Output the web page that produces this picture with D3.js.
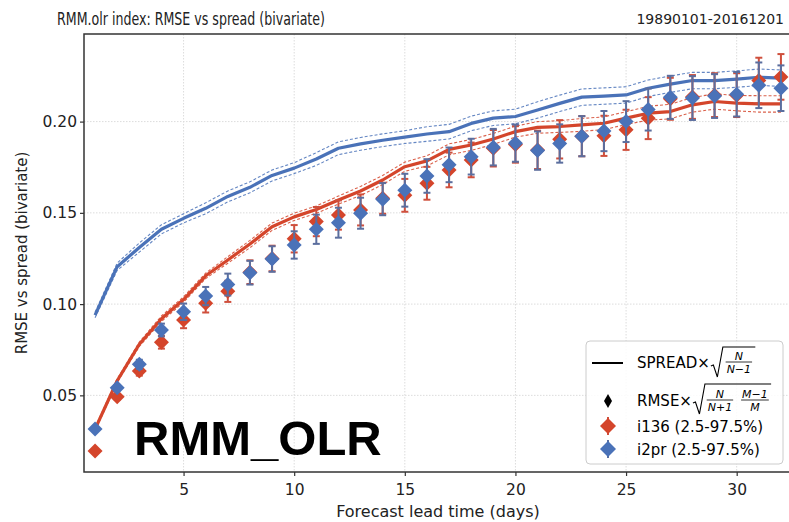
<!DOCTYPE html>
<html>
<head>
<meta charset="utf-8">
<script src="https://cdn.jsdelivr.net/npm/d3@7"></script>
<style>
    body { margin: 0; background: #fff; }
    svg { display: block; font-family: "DejaVu Sans", sans-serif; }
</style>
</head>
<body>
<svg id="chart" width="789" height="522"></svg>
<script>

// forecast lead time (days)
let days = [1, 2, 3, 4, 5, 6, 7, 8, 9, 10, 11, 12, 13, 14, 15, 16,
    17, 18, 19, 20, 21, 22, 23, 24, 25, 26, 27, 28, 29, 30, 31, 32];

// spread lines (solid) with their dashed 2.5-97.5% bands
let spreadI136 = [0.0315, 0.058, 0.078, 0.092, 0.1025, 0.1155, 0.1242, 0.1329, 0.1424, 0.1478, 0.1518, 0.157,
    0.162, 0.168, 0.1753, 0.1785, 0.1848, 0.1872, 0.1905, 0.1945, 0.1968, 0.1973, 0.1982, 0.1991,
    0.2019, 0.2046, 0.2055, 0.2092, 0.211, 0.2101, 0.2097, 0.2097];
let spreadI136Lo = [0.0305, 0.057, 0.0768, 0.0905, 0.101, 0.114, 0.1224, 0.1309, 0.1404, 0.1458, 0.1498, 0.1548,
    0.1595, 0.1655, 0.1728, 0.1757, 0.1818, 0.1842, 0.1875, 0.1915, 0.1936, 0.1941, 0.1947, 0.1956,
    0.1984, 0.2008, 0.2015, 0.2052, 0.2068, 0.2059, 0.2052, 0.2052];
let spreadI136Hi = [0.0325, 0.059, 0.0792, 0.0935, 0.104, 0.117, 0.126, 0.1349, 0.1444, 0.1498, 0.1538, 0.1592,
    0.1645, 0.1705, 0.1778, 0.1813, 0.1878, 0.1902, 0.1935, 0.1975, 0.2, 0.2005, 0.2017, 0.2026,
    0.2054, 0.2084, 0.2095, 0.2132, 0.2152, 0.2143, 0.2142, 0.2142];

let spreadI2pr = [0.094, 0.1205, 0.131, 0.141, 0.147, 0.1525, 0.159, 0.164, 0.1705, 0.1745, 0.1795, 0.1854,
    0.1878, 0.1898, 0.1915, 0.1932, 0.1945, 0.199, 0.2019, 0.2028, 0.2064, 0.21, 0.2134, 0.214,
    0.2146, 0.2183, 0.2205, 0.2225, 0.2225, 0.2233, 0.2243, 0.2238];
let spreadI2prLo = [0.0925, 0.1185, 0.1285, 0.1385, 0.1445, 0.1495, 0.156, 0.161, 0.1675, 0.1715, 0.176, 0.1819,
    0.1843, 0.1863, 0.188, 0.1892, 0.1905, 0.195, 0.1979, 0.1988, 0.2019, 0.2055, 0.2089, 0.2095,
    0.2101, 0.2138, 0.216, 0.218, 0.218, 0.2188, 0.2198, 0.2193];
let spreadI2prHi = [0.0955, 0.1225, 0.1335, 0.1435, 0.1495, 0.1555, 0.162, 0.167, 0.1735, 0.1775, 0.183, 0.1889,
    0.1913, 0.1933, 0.195, 0.1972, 0.1985, 0.203, 0.2059, 0.2068, 0.2109, 0.2145, 0.2179, 0.2185,
    0.2191, 0.2228, 0.225, 0.227, 0.227, 0.2278, 0.2288, 0.2283];

// corrected RMSE (diamonds) and the half-width of their error bars
let rmseI136 = [0.0195, 0.0492, 0.0633, 0.0791, 0.0913, 0.1004, 0.107, 0.1175, 0.125, 0.1358, 0.1452, 0.1488,
    0.1516, 0.158, 0.1596, 0.1662, 0.1735, 0.179, 0.1854, 0.1875, 0.1845, 0.1903, 0.192, 0.1922,
    0.1955, 0.2019, 0.2125, 0.2135, 0.2145, 0.2145, 0.2225, 0.2245];
let errI136 = [0.001, 0.0015, 0.0025, 0.0035, 0.0045, 0.005, 0.0058, 0.0065, 0.007, 0.0075, 0.008, 0.008,
    0.0085, 0.0085, 0.009, 0.009, 0.0095, 0.0095, 0.01, 0.01, 0.0105, 0.0105, 0.011, 0.011,
    0.011, 0.0115, 0.0115, 0.012, 0.012, 0.012, 0.0125, 0.0125];
let rmseI2pr = [0.0316, 0.0542, 0.067, 0.0858, 0.0958, 0.1044, 0.1107, 0.1172, 0.1247, 0.1324, 0.141, 0.1446,
    0.1498, 0.1575, 0.1624, 0.1702, 0.1763, 0.1808, 0.186, 0.1882, 0.1841, 0.188, 0.192, 0.1948,
    0.2, 0.2066, 0.2133, 0.2129, 0.214, 0.215, 0.2199, 0.2183];
let errI2pr = [0.001, 0.0015, 0.0025, 0.0035, 0.0045, 0.005, 0.006, 0.0065, 0.007, 0.0075, 0.008, 0.0082,
    0.0085, 0.0088, 0.009, 0.0092, 0.0095, 0.0098, 0.01, 0.0102, 0.0105, 0.0105, 0.011, 0.011,
    0.0112, 0.0115, 0.0118, 0.012, 0.012, 0.0122, 0.0125, 0.0125];

let xTicks = [5, 10, 15, 20, 25, 30];
let yTicks = [0.05, 0.10, 0.15, 0.20];

let red = "#d4452b";
let redBar = "#cf4f3c";
let blue = "#4a72b8";
let blueBar = "#5b6e9e";

let svg = d3.select("#chart");
let plotLeft = 84, plotRight = 792, plotTop = 34, plotBottom = 472;

let xScale = d3.scaleLinear().domain([0.5, 32.5]).range([plotLeft, plotRight]);
let yScale = d3.scaleLinear().domain([0.008, 0.248]).range([plotBottom, plotTop]);

// titles (the source figure's title font is narrow and tall)
svg.append("text")
    .attr("x", 57).attr("y", 25)
    .attr("font-size", 17).attr("fill", "#222")
    .attr("textLength", 268).attr("lengthAdjust", "spacingAndGlyphs")
    .text("RMM.olr index: RMSE vs spread (bivariate)");
svg.append("text")
    .attr("x", 784).attr("y", 24)
    .attr("text-anchor", "end")
    .attr("font-size", 14).attr("fill", "#222")
    .text("19890101-20161201");

// grid
let grid = svg.append("g");
grid.selectAll("line.gx").data(xTicks).enter().append("line")
    .attr("x1", d => xScale(d)).attr("x2", d => xScale(d))
    .attr("y1", plotTop).attr("y2", plotBottom);
grid.selectAll("line.gy").data(yTicks).enter().append("line")
    .attr("x1", plotLeft).attr("x2", plotRight)
    .attr("y1", d => yScale(d)).attr("y2", d => yScale(d));
grid.selectAll("line")
    .attr("stroke", "#dcdcdc").attr("stroke-width", 1)
    .attr("stroke-dasharray", "1.5,1.5");

// axes
let xAxis = d3.axisBottom(xScale).tickValues(xTicks).tickSize(4).tickSizeOuter(0);
let yAxis = d3.axisLeft(yScale).tickValues(yTicks).tickFormat(d3.format(".2f")).tickSize(4).tickSizeOuter(0);

let gx = svg.append("g").attr("transform", "translate(0," + plotBottom + ")").call(xAxis);
let gy = svg.append("g").attr("transform", "translate(" + plotLeft + ",0)").call(yAxis);
[gx, gy].forEach(function (g) {
    g.select(".domain").remove();
    g.selectAll(".tick line").attr("stroke", "#333").attr("stroke-width", 1.2);
    g.selectAll(".tick text")
        .attr("font-family", "DejaVu Sans").attr("font-size", 15.5).attr("fill", "#222");
});
gx.selectAll(".tick text").attr("dy", "1.05em");
gy.selectAll(".tick text").attr("x", -7);

svg.append("text")
    .attr("x", (plotLeft + plotRight) / 2).attr("y", 517)
    .attr("text-anchor", "middle").attr("font-size", 16).attr("fill", "#222")
    .text("Forecast lead time (days)");
svg.append("text")
    .attr("transform", "translate(27," + ((plotTop + plotBottom) / 2) + ") rotate(-90)")
    .attr("text-anchor", "middle").attr("font-size", 15).attr("fill", "#222")
    .text("RMSE vs spread (bivariate)");

let plot = svg.append("g");

// spread lines + bands
let series = [
    {mid: spreadI136, lo: spreadI136Lo, hi: spreadI136Hi, color: red},
    {mid: spreadI2pr, lo: spreadI2prLo, hi: spreadI2prHi, color: blue}
];
series.forEach(function (s) {
    let line = d3.line().x((d, i) => xScale(days[i])).y(d => yScale(d));
    [s.lo, s.hi].forEach(function (band) {
        plot.append("path").datum(band)
            .attr("d", line).attr("fill", "none")
            .attr("stroke", s.color).attr("stroke-width", 1.1)
            .attr("stroke-dasharray", "3,2").attr("opacity", 0.85);
    });
    plot.append("path").datum(s.mid)
        .attr("d", line).attr("fill", "none")
        .attr("stroke", s.color).attr("stroke-width", 3.2)
        .attr("stroke-linejoin", "round");
});

// diamonds with error bars
function diamond(hw, hh) {
    return "M0," + (-hh) + "L" + hw + ",0L0," + hh + "L" + (-hw) + ",0Z";
}

let markers = [
    {vals: rmseI136, err: errI136, color: red, bar: redBar},
    {vals: rmseI2pr, err: errI2pr, color: blue, bar: blueBar}
];
markers.forEach(function (m) {
    let g = plot.append("g");
    let pts = days.map((d, i) => ({day: d, v: m.vals[i], e: m.err[i]}));
    g.selectAll("line.eb").data(pts).enter().append("line")
        .attr("x1", d => xScale(d.day)).attr("x2", d => xScale(d.day))
        .attr("y1", d => yScale(d.v - d.e)).attr("y2", d => yScale(d.v + d.e))
        .attr("stroke", m.bar).attr("stroke-width", 2);
    [-1, 1].forEach(function (sign) {
        g.selectAll("line.cap" + sign).data(pts).enter().append("line")
            .attr("x1", d => xScale(d.day) - 3.5).attr("x2", d => xScale(d.day) + 3.5)
            .attr("y1", d => yScale(d.v + sign * d.e)).attr("y2", d => yScale(d.v + sign * d.e))
            .attr("stroke", m.bar).attr("stroke-width", 2);
    });
    g.selectAll("path").data(pts).enter().append("path")
        .attr("transform", d => "translate(" + xScale(d.day) + "," + yScale(d.v) + ")")
        .attr("d", diamond(7.5, 7.5))
        .attr("fill", m.color);
});

// frame
svg.append("rect")
    .attr("x", plotLeft).attr("y", plotTop)
    .attr("width", plotRight - plotLeft).attr("height", plotBottom - plotTop)
    .attr("fill", "none").attr("stroke", "#333").attr("stroke-width", 1.5);

// big label
svg.append("text")
    .attr("x", 134).attr("y", 455)
    .attr("font-family", "Liberation Sans, Arial, sans-serif")
    .attr("font-weight", "bold").attr("font-size", 49)
    .attr("fill", "#000")
    .text("RMM_OLR");

// legend
let legend = svg.append("g");
legend.append("rect")
    .attr("x", 586).attr("y", 341).attr("width", 197).attr("height", 123)
    .attr("rx", 4).attr("fill", "#fff").attr("fill-opacity", 0.85)
    .attr("stroke", "#cccccc");

let legendFs = 15;
let textX = 637;

function fraction(cx, barY, num, den) {
    let n = legend.append("text").attr("x", cx).attr("y", barY - 2.5)
        .attr("text-anchor", "middle").attr("font-size", 11)
        .attr("font-style", "italic").attr("fill", "#000").text(num);
    let d = legend.append("text").attr("x", cx).attr("y", barY + 10.5)
        .attr("text-anchor", "middle").attr("font-size", 11)
        .attr("font-style", "italic").attr("fill", "#000").text(den);
    let w = Math.max(n.node().getComputedTextLength(), d.node().getComputedTextLength()) + 2;
    legend.append("line")
        .attr("x1", cx - w / 2).attr("x2", cx + w / 2)
        .attr("y1", barY).attr("y2", barY)
        .attr("stroke", "#000").attr("stroke-width", 0.8);
    return w;
}

function radical(x, yTop, yBot, width) {
    let yMid = (yTop + yBot) / 2 + 3;
    legend.append("path")
        .attr("d", "M" + x + "," + (yMid + 1) + "L" + (x + 2.5) + "," + yMid +
            "L" + (x + 6.5) + "," + yBot + "L" + (x + 12) + "," + yTop +
            "L" + (x + 12 + width) + "," + yTop)
        .attr("fill", "none").attr("stroke", "#000").attr("stroke-width", 1.1);
}

// row 1: spread line
legend.append("line")
    .attr("x1", 592).attr("x2", 623).attr("y1", 363).attr("y2", 363)
    .attr("stroke", "#000").attr("stroke-width", 2);
let t1 = legend.append("text").attr("x", textX).attr("y", 368)
    .attr("font-size", legendFs).attr("fill", "#000").text("SPREAD×");
let r1 = textX + t1.node().getComputedTextLength() + 1;
let w1 = fraction(r1 + 12 + 16, 362, "N", "N\u22121");
radical(r1, 347, 377, w1 + 6);

// row 2: corrected RMSE
legend.append("path")
    .attr("transform", "translate(608,401)")
    .attr("d", diamond(4, 7)).attr("fill", "#000");
let t2 = legend.append("text").attr("x", textX).attr("y", 406)
    .attr("font-size", legendFs).attr("fill", "#000").text("RMSE×");
let r2 = textX + t2.node().getComputedTextLength() + 1;
let w2a = fraction(r2 + 12 + 15, 400, "N", "N+1");
let w2b = fraction(r2 + 12 + 15 + 35, 400, "M\u22121", "M");
radical(r2, 384, 414, w2a + w2b + 12);

// rows 3 and 4: models
let legendRows = [
    {y: 426, label: "i136 (2.5-97.5%)", color: red, bar: redBar},
    {y: 449, label: "i2pr (2.5-97.5%)", color: blue, bar: blueBar}
];
legendRows.forEach(function (r) {
    legend.append("line")
        .attr("x1", 608).attr("x2", 608).attr("y1", r.y - 9).attr("y2", r.y + 9)
        .attr("stroke", r.bar).attr("stroke-width", 2);
    legend.append("path")
        .attr("transform", "translate(608," + r.y + ")")
        .attr("d", diamond(8, 8)).attr("fill", r.color);
    legend.append("text").attr("x", textX).attr("y", r.y + 5.5)
        .attr("font-size", legendFs).attr("fill", "#000").text(r.label);
});

</script>
</body>
</html>
